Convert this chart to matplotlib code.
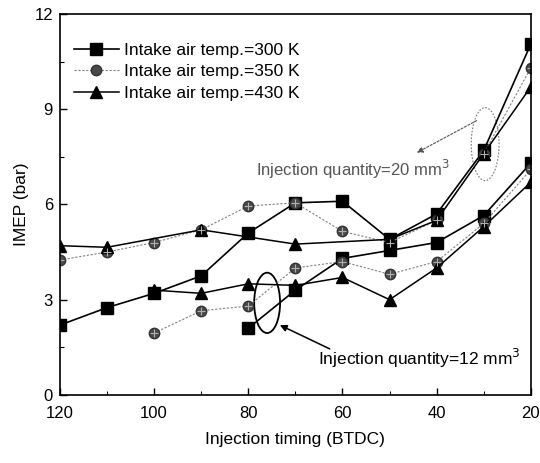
import numpy as np
import matplotlib
matplotlib.use("Agg")
import matplotlib.pyplot as plt
from matplotlib.patches import Ellipse

plt.rcParams['font.family'] = ['Liberation Sans Narrow', 'Liberation Sans', 'DejaVu Sans']

# injection quantity = 20 mm3
x_300_20 = [120, 110, 100, 90, 80, 70, 60, 50, 40, 30, 20]
imep_300_20 = [2.2, 2.75, 3.2, 3.75, 5.1, 6.05, 6.1, 4.9, 5.7, 7.7, 11.05]
x_350_20 = [120, 110, 100, 90, 80, 70, 60, 50, 40, 30, 20]
imep_350_20 = [4.25, 4.5, 4.8, 5.2, 5.95, 6.05, 5.15, 4.8, 5.5, 7.6, 10.3]
x_430_20 = [120, 110, 90, 70, 50, 40, 30, 20]
imep_430_20 = [4.7, 4.65, 5.2, 4.75, 4.9, 5.5, 7.6, 9.7]

# injection quantity = 12 mm3
x_300_12 = [80, 70, 60, 50, 40, 30, 20]
imep_300_12 = [2.1, 3.3, 4.3, 4.55, 4.8, 5.65, 7.3]
x_350_12 = [100, 90, 80, 70, 60, 50, 40, 30, 20]
imep_350_12 = [1.95, 2.65, 2.8, 4.0, 4.2, 3.8, 4.2, 5.4, 7.1]
x_430_12 = [100, 90, 80, 70, 60, 50, 40, 30, 20]
imep_430_12 = [3.3, 3.2, 3.5, 3.45, 3.7, 3.0, 4.0, 5.3, 6.7]

labels = ['Intake air temp.=300 K', 'Intake air temp.=350 K', 'Intake air temp.=430 K']

fig = plt.figure(figsize=(5.4, 4.63), dpi=100)
ax = fig.add_axes([0.111, 0.147, 0.872, 0.823])

sq = dict(color='black', lw=1.2, marker='s', ms=8, mfc='black', mec='black')
ci = dict(color='#808080', lw=0.8, ls=(0, (2, 1.5)), marker='o', ms=7.5, mfc='#4a4a4a', mec='#333333')
tr = dict(color='black', lw=1.1, marker='^', ms=9, mfc='black', mec='black')

h1, = ax.plot(x_300_20, imep_300_20, label=labels[0], **sq)
h2, = ax.plot(x_350_20, imep_350_20, label=labels[1], **ci)
h3, = ax.plot(x_430_20, imep_430_20, label=labels[2], **tr)
ax.plot(x_300_12, imep_300_12, **sq)
ax.plot(x_350_12, imep_350_12, **ci)
ax.plot(x_430_12, imep_430_12, **tr)
# cross pattern on the circle markers
for xs, ys in [(x_350_20, imep_350_20), (x_350_12, imep_350_12)]:
    ax.plot(xs, ys, ls='none', marker='+', ms=6, mew=0.8, color='#b0b0b0')

ax.set_xlim(120, 20)
ax.set_ylim(0, 12)
ax.set_xticks([120, 100, 80, 60, 40, 20])
ax.set_xticks([110, 90, 70, 50, 30], minor=True)
ax.set_yticks([0, 3, 6, 9, 12])
ax.set_yticks([1.5, 4.5, 7.5, 10.5], minor=True)
ax.tick_params(direction='in', labelsize=12, length=5, width=1)
ax.tick_params(axis='x', pad=8)
ax.tick_params(axis='y', pad=5)
ax.tick_params(which='minor', direction='in', length=3, width=0.8)
for s in ax.spines.values():
    s.set_linewidth(1.2)

ax.set_xlabel('Injection timing (BTDC)', fontsize=12.5, labelpad=8)
ax.set_ylabel('IMEP (bar)', fontsize=12.5, labelpad=4)

ax.legend(handles=[h1, h2, h3], loc='upper left', frameon=False, fontsize=12.5,
          handlelength=2.6, handletextpad=0.3, labelspacing=0.35,
          bbox_to_anchor=(0.0, 0.96), borderaxespad=0.4)

# annotations
ax.add_patch(Ellipse((29.7, 7.9), 5.9, 2.3, fill=False, ec='#777777', lw=0.8, ls=(0, (1.5, 1.5))))
ax.annotate('', xy=(44.2, 7.63), xytext=(31.5, 8.64),
            arrowprops=dict(arrowstyle='-|>', color='#555555', lw=0.8, ls=(0, (2, 1.5)),
                            mutation_scale=9, shrinkA=0, shrinkB=0))
ax.text(37.2, 7.1, 'Injection quantity=20 mm$^3$', ha='right', va='center',
        fontsize=12, color='#555555')

ax.add_patch(Ellipse((76.0, 2.9), 5.5, 1.9, fill=False, ec='black', lw=1.3))
ax.annotate('', xy=(73.3, 2.2), xytext=(62.7, 1.45),
            arrowprops=dict(arrowstyle='-|>', color='black', lw=1.1,
                            mutation_scale=10, shrinkA=0, shrinkB=0))
ax.text(65.2, 1.14, 'Injection quantity=12 mm$^3$', ha='left', va='center',
        fontsize=12.5, color='black')

plt.savefig('out.png', dpi=100)
plt.close()
